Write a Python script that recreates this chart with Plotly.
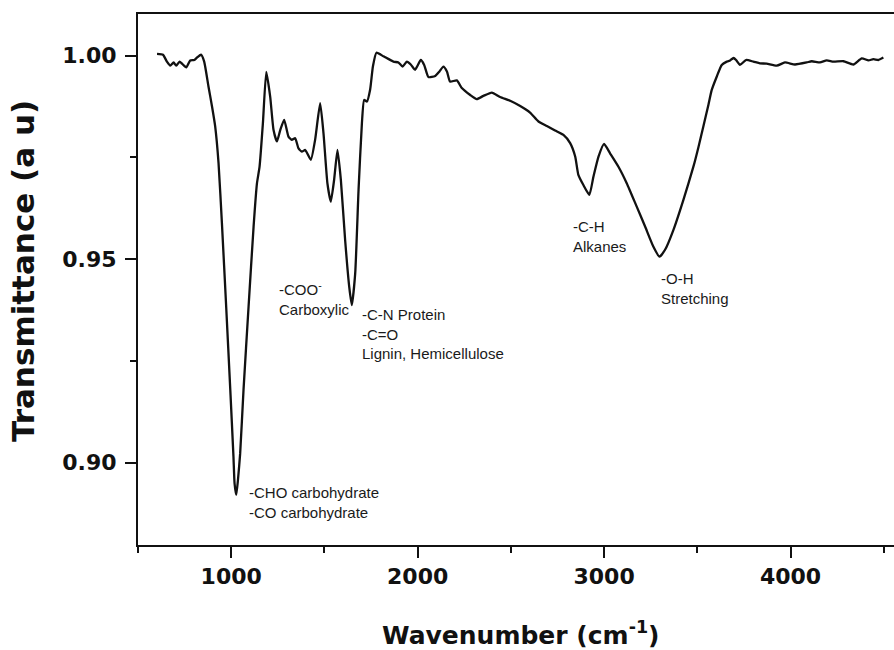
import plotly.graph_objects as go

wavenumber = [602, 634, 655, 673, 691, 705, 723, 736, 759, 780, 802, 819, 838, 855, 878, 897, 914, 932, 950, 973,
              995, 1012, 1018, 1027, 1036, 1048, 1066, 1093, 1120, 1138, 1152, 1170, 1188, 1209, 1227, 1245, 1263,
              1284, 1307, 1325, 1343, 1361, 1379, 1397, 1427, 1450, 1477, 1495, 1516, 1534, 1552, 1570, 1588, 1611,
              1633, 1647, 1665, 1683, 1701, 1713, 1728, 1745, 1760, 1779, 1817, 1870, 1897, 1919, 1942, 1963, 1986,
              2017, 2035, 2058, 2094, 2117, 2138, 2157, 2174, 2210, 2237, 2282, 2317, 2353, 2398, 2442, 2496, 2550,
              2603, 2648, 2693, 2737, 2782, 2818, 2845, 2862, 2889, 2921, 2943, 2970, 3000, 3032, 3077, 3122, 3175,
              3220, 3264, 3297, 3327, 3372, 3425, 3479, 3506, 3533, 3560, 3577, 3604, 3631, 3658, 3676, 3694, 3708,
              3729, 3761, 3801, 3836, 3872, 3926, 3970, 4024, 4087, 4114, 4158, 4194, 4230, 4284, 4337, 4382, 4418,
              4444, 4471, 4498]
transmittance = [1.0004, 1.0002, 0.9985, 0.9975, 0.9983, 0.9975, 0.9985, 0.9980, 0.9971, 0.9988, 0.9989, 0.9996,
                 1.0002, 0.9985, 0.9924, 0.9875, 0.9826, 0.9736, 0.9589, 0.9383, 0.9179, 0.9015, 0.8949, 0.8921,
                 0.8957, 0.9023, 0.9179, 0.9383, 0.9580, 0.9686, 0.9727, 0.9834, 0.9960, 0.9899, 0.9817, 0.9789,
                 0.9817, 0.9842, 0.9801, 0.9793, 0.9797, 0.9772, 0.9764, 0.9768, 0.9744, 0.9793, 0.9883, 0.9809,
                 0.9686, 0.9641, 0.9695, 0.9768, 0.9695, 0.9547, 0.9432, 0.9387, 0.9465, 0.9670, 0.9834, 0.9891,
                 0.9887, 0.9916, 0.9973, 1.0007, 0.9998, 0.9985, 0.9983, 0.9973, 0.9985, 0.9978, 0.9965, 0.9989,
                 0.9977, 0.9947, 0.9950, 0.9961, 0.9973, 0.9961, 0.9936, 0.9939, 0.9920, 0.9903, 0.9893, 0.9901,
                 0.9909, 0.9898, 0.9889, 0.9876, 0.9860, 0.9838, 0.9827, 0.9816, 0.9805, 0.9785, 0.9752, 0.9707,
                 0.9682, 0.9658, 0.9703, 0.9752, 0.9783, 0.9760, 0.9727, 0.9686, 0.9629, 0.9580, 0.9531, 0.9506,
                 0.9523, 0.9572, 0.9645, 0.9727, 0.9775, 0.9827, 0.9880, 0.9915, 0.9948, 0.9977, 0.9985, 0.9988,
                 0.9994, 0.9989, 0.9977, 0.9989, 0.9985, 0.9981, 0.9980, 0.9975, 0.9983, 0.9978, 0.9983, 0.9986,
                 0.9983, 0.9988, 0.9985, 0.9986, 0.9978, 0.9993, 0.9988, 0.9991, 0.9989, 0.9995]

x_ticks = [1000, 2000, 3000, 4000]
y_ticks = [0.90, 0.95, 1.00]
y_tick_labels = ["0.90", "0.95", "1.00"]

label_texts = ["-CHO carbohydrate<br>-CO carbohydrate",
               "-COO<sup>-</sup><br>Carboxylic",
               "-C-N Protein<br>-C=O<br>Lignin, Hemicellulose",
               "-C-H<br>Alkanes",
               "-O-H<br>Stretching"]
label_x = [1084, 1245, 1692, 2821, 3295]
label_y = [0.8902, 0.9403, 0.9317, 0.9556, 0.9428]

fig = go.Figure()
fig.add_trace(go.Scatter(x=wavenumber, y=transmittance, mode="lines",
                         line=dict(color="#111111", width=2.3, shape="spline", smoothing=0.5),
                         showlegend=False, hoverinfo="skip"))

for t, lx, ly in zip(label_texts, label_x, label_y):
    fig.add_annotation(x=lx, y=ly, xref="x", yref="y", text=t, showarrow=False,
                       xanchor="left", yanchor="middle", align="left",
                       font=dict(family="Liberation Sans", size=15, color="#1a1a1a"))

fig.add_annotation(x=0.506, y=-0.166, xref="paper", yref="paper",
                   text="Wavenumber (cm<sup>-1</sup>)", showarrow=False,
                   xanchor="center", yanchor="middle",
                   font=dict(family="DejaVu Sans", size=25, color="#111111", weight="bold"))
fig.add_annotation(x=-0.152, y=0.516, xref="paper", yref="paper",
                   text="Transmittance (a u)", showarrow=False, textangle=-90,
                   xanchor="center", yanchor="middle",
                   font=dict(family="DejaVu Sans", size=31, color="#111111", weight="bold"))

fig.update_xaxes(range=[500, 4555], tickvals=x_ticks, ticks="outside", ticklen=11, tickwidth=2,
                 tickcolor="#111111", showline=True, linecolor="#111111", linewidth=2, mirror=True,
                 showgrid=False, zeroline=False,
                 minor=dict(dtick=500, tick0=0, ticks="outside", ticklen=6, tickwidth=2, tickcolor="#111111"),
                 tickfont=dict(family="DejaVu Sans", size=22, color="#111111", weight="bold"))
fig.update_yaxes(range=[0.8798, 1.0102], tickvals=y_ticks, ticktext=y_tick_labels, ticks="outside",
                 ticklen=11, tickwidth=2, tickcolor="#111111", showline=True, linecolor="#111111",
                 linewidth=2, mirror=False, showgrid=False, zeroline=False, ticklabelstandoff=4,
                 minor=dict(dtick=0.025, tick0=0.9, ticks="outside", ticklen=6, tickwidth=2, tickcolor="#111111"),
                 tickfont=dict(family="DejaVu Sans", size=22, color="#111111", weight="bold"))

fig.update_layout(width=894, height=650, margin=dict(l=138, r=0, t=14, b=105),
                  paper_bgcolor="white", plot_bgcolor="white")

fig.write_html("out.html")
